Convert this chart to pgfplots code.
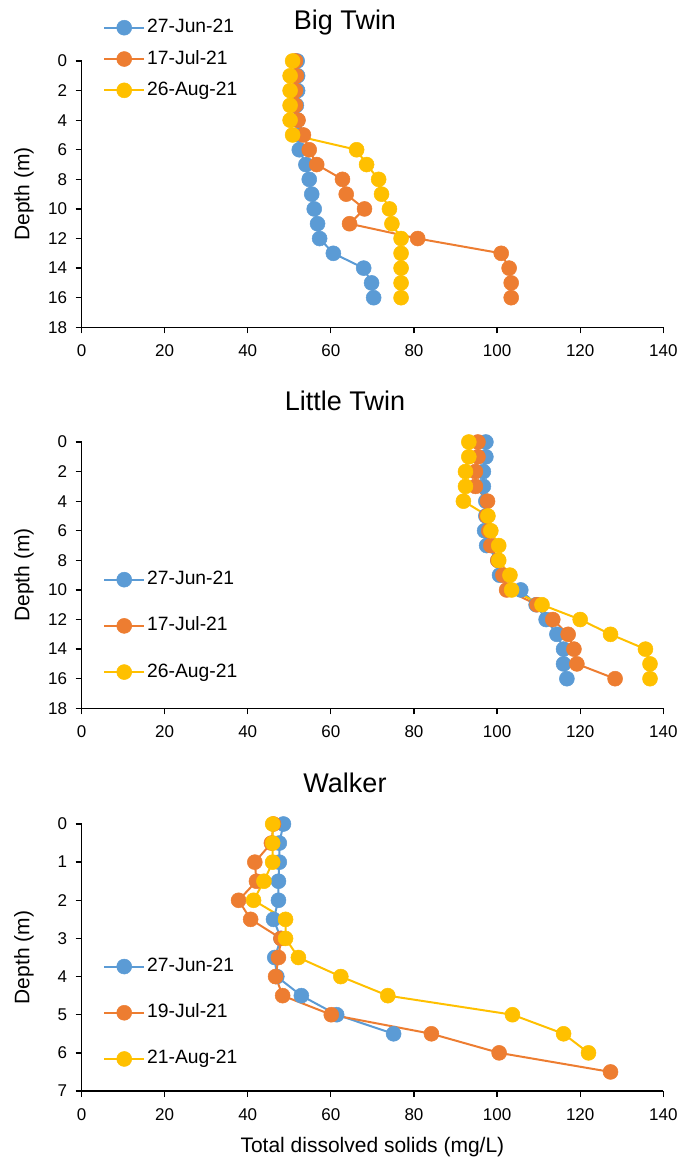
\documentclass[border=0pt]{standalone}
\usepackage{fontspec}
\setmainfont{Liberation Sans}
\usepackage{pgfplots}
\pgfplotsset{compat=1.18}
\definecolor{cblue}{HTML}{5B9BD5}
\definecolor{corange}{HTML}{ED7D31}
\definecolor{cgold}{HTML}{FFC000}
\pgfplotsset{
  tdsaxis/.style={
    scale only axis, width=581.8pt, height=266.3pt,
    xmin=0, xmax=140, xtick={0,20,...,140},
    y dir=reverse,
    axis x line=bottom, axis y line=left,
    axis line style={-, line width=1.3pt, black},
    tick align=outside, major tick length=6pt,
    tick style={line width=1.3pt, black},
    clip=false,
    /pgf/number format/assume math mode=true,
    ticklabel style={font=\fontsize{17}{17}\selectfont},
    yticklabel style={xshift=-5pt},
    xticklabel style={yshift=-8pt},
    ylabel={Depth (m)},
    every axis y label/.style={at={(axis description cs:-0.0894,0.5)}, rotate=90, anchor=base, font=\fontsize{21}{21}\selectfont},
    every axis x label/.style={at={(axis description cs:0.5,-0.231)}, anchor=base, font=\fontsize{21}{21}\selectfont},
    every axis title/.style={at={(axis description cs:0.4529,1.117)}, anchor=base, font=\fontsize{27}{27}\selectfont},
    legend style={draw=none, fill=none, inner sep=0pt, anchor=north west,
      font=\fontsize{19.3}{19.3}\selectfont, cells={anchor=west},
      nodes={inner sep=2pt, text height=14pt, text depth=4pt}},
    legend image code/.code={\draw[mark repeat=2,mark phase=2] plot coordinates {(0pt,0pt) (20pt,0pt) (40pt,0pt)};},
  },
  sblue/.style={color=cblue, line width=2pt, mark=*, mark size=7.5pt, mark options={fill=cblue, draw=cblue, line width=0.5pt}},
  sorange/.style={color=corange, line width=2pt, mark=*, mark size=7.5pt, mark options={fill=corange, draw=corange, line width=0.5pt}},
  sgold/.style={color=cgold, line width=2pt, mark=*, mark size=7.5pt, mark options={fill=cgold, draw=cgold, line width=0.5pt}},
}
\begin{document}
\begin{tikzpicture}
\path[use as bounding box] (0,0) rectangle (690pt,1159pt);

% ---------------- Big Twin ----------------
\begin{axis}[tdsaxis, at={(81.5pt,831.7pt)}, anchor=south west,
  ymin=0, ymax=18, ytick={0,2,...,18}, title={Big Twin},
  legend style={at={(axis description cs:0.037,1.167)}, row sep=9.3pt}]
\addplot[sblue] coordinates {(51.9,0) (52,1) (52,2) (51.7,3) (52,4) (52.3,5) (52.4,6) (54,7) (54.8,8) (55.4,9) (56,10) (56.8,11) (57.3,12) (60.6,13) (67.9,14) (69.8,15) (70.3,16)};
\addplot[sorange] coordinates {(51.5,0) (51.7,1) (51.5,2) (51.5,3) (52.1,4) (53.4,5) (54.8,6) (56.6,7) (62.8,8) (63.7,9) (68.1,10) (64.5,11) (80.9,12) (101,13) (102.9,14) (103.4,15) (103.4,16)};
\addplot[sgold] coordinates {(50.8,0) (50.2,1) (50.2,2) (50.2,3) (50.2,4) (50.8,5) (66.2,6) (68.6,7) (71.5,8) (72.2,9) (74.1,10) (74.7,11) (76.9,12) (76.9,13) (76.9,14) (76.9,15) (76.9,16)};
\legend{27-Jun-21,17-Jul-21,26-Aug-21}
\end{axis}

% ---------------- Little Twin ----------------
\begin{axis}[tdsaxis, at={(81.5pt,450.7pt)}, anchor=south west,
  ymin=0, ymax=18, ytick={0,2,...,18}, title={Little Twin},
  legend style={at={(axis description cs:0.037,0.525)}, row sep=24.2pt}]
\addplot[sblue] coordinates {(97.3,0) (97.3,1) (96.7,2) (96.7,3) (97.3,4) (97.3,5) (97,6) (97.5,7) (100.2,8) (100.6,9) (105.7,10) (109.4,11) (111.8,12) (114.4,13) (116,14) (116,15) (116.8,16)};
\addplot[sorange] coordinates {(95.4,0) (95.4,1) (94.8,2) (94.8,3) (97.7,4) (97.5,5) (98,6) (98.5,7) (100.2,8) (101.4,9) (102.3,10) (109.6,11) (113.4,12) (117.1,13) (118.5,14) (119.2,15) (128.4,16)};
\addplot[sgold] coordinates {(93.2,0) (93.2,1) (92.4,2) (92.4,3) (91.9,4) (97.8,5) (98.5,6) (100.4,7) (100.4,8) (103.1,9) (103.5,10) (110.8,11) (120,12) (127.3,13) (135.7,14) (136.8,15) (136.8,16)};
\legend{27-Jun-21,17-Jul-21,26-Aug-21}
\end{axis}

% ---------------- Walker ----------------
\begin{axis}[tdsaxis, at={(81.5pt,68pt)}, anchor=south west, height=267pt,
  ymin=0, ymax=7, ytick={0,1,...,7}, title={Walker},
  xlabel={Total dissolved solids (mg/L)},
  legend style={at={(axis description cs:0.037,0.508)}, row sep=24.2pt}]
\addplot[sblue] coordinates {(48.6,0) (47.6,0.5) (47.6,1) (47.4,1.5) (47.4,2) (46.2,2.5) (48,3) (46.5,3.5) (47,4) (52.9,4.5) (61.4,5) (75.1,5.5)};
\addplot[sorange] coordinates {(46.2,0) (45.7,0.5) (41.7,1) (42.1,1.5) (37.8,2) (40.7,2.5) (48,3) (47.4,3.5) (46.7,4) (48.4,4.5) (60.1,5) (84.2,5.5) (100.5,6) (127.3,6.5)};
\addplot[sgold] coordinates {(46,0) (46,0.5) (46,1) (43.9,1.5) (41.4,2) (49.1,2.5) (49.1,3) (52.2,3.5) (62.4,4) (73.7,4.5) (103.7,5) (116,5.5) (122,6)};
\legend{27-Jun-21,19-Jul-21,21-Aug-21}
\end{axis}
\end{tikzpicture}
\end{document}
